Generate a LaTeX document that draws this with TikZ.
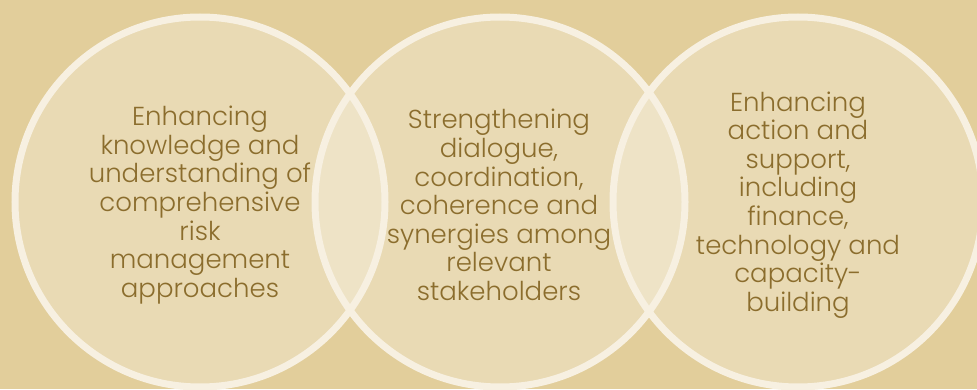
\documentclass[tikz,border=0pt]{standalone}
\usepackage{fontspec}
\IfFontExistsTF{Poppins Light}{\setmainfont{Poppins Light}}{\setmainfont{Poppins}}
\definecolor{bgtan}{RGB}{226,206,155}
\definecolor{ringc}{RGB}{247,240,225}
\definecolor{txtc}{RGB}{139,109,45}
\tikzset{
  ringfill/.style={fill=white, fill opacity=0.25, draw=none},
  ringline/.style={draw=ringc, line width=7pt},
  ringtext/.style={text=txtc, align=center, font=\fontsize{26}{28.6}\selectfont, inner sep=0pt}
}
\begin{document}
\begin{tikzpicture}[x=1pt,y=1pt]
\fill[bgtan] (0,0) rectangle (977,389);
\useasboundingbox (0,0) rectangle (977,389);
\coordinate (cl) at (200,187);
\coordinate (cm) at (500,187);
\coordinate (cr) at (798,187);
\foreach \c in {cl,cm,cr} {\path[ringfill] (\c) circle[radius=185];}
\foreach \c in {cl,cm,cr} {\draw[ringline] (\c) circle[radius=185];}
\node[ringtext] (tl) at (200,184) {Enhancing\\knowledge and\\understanding of\\comprehensive\\risk\\management\\approaches};
\node[ringtext] (tm) at (499,184) {Strengthening\\dialogue,\\coordination,\\coherence and\\synergies among\\relevant\\stakeholders};
\node[ringtext] (tr) at (798,184) {Enhancing\\action and\\support,\\including\\finance,\\technology and\\capacity-\\building};
\end{tikzpicture}
\end{document}
